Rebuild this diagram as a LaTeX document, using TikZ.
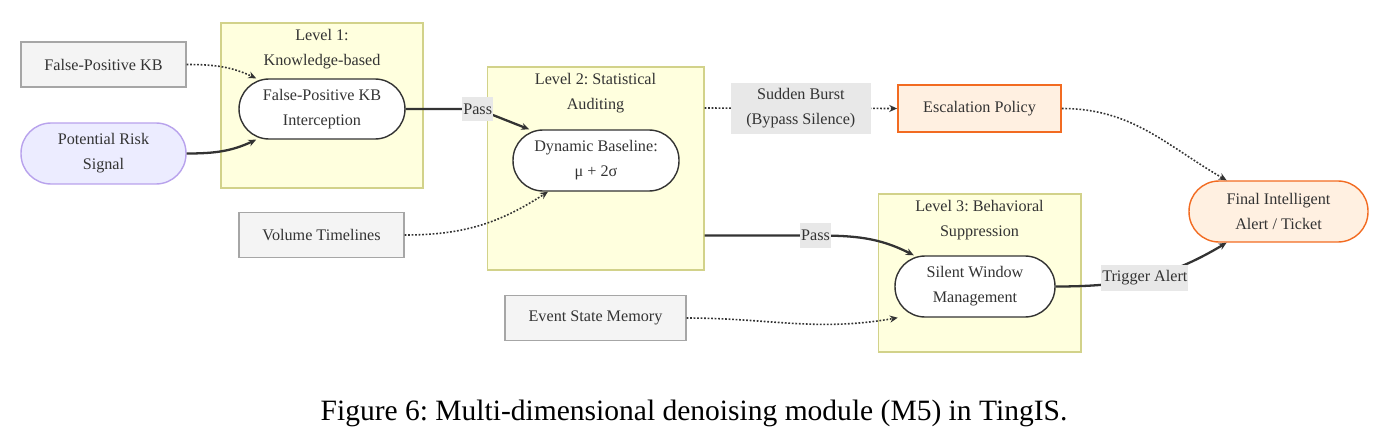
\documentclass[tikz,border=0pt]{standalone}
\usepackage{fontspec}
\setmainfont{Liberation Serif}
\usetikzlibrary{arrows.meta,positioning,calc}
\frenchspacing
\definecolor{ink}{HTML}{333333}
\definecolor{clfill}{HTML}{FFFFDE}
\definecolor{cldraw}{HTML}{D2D28A}
\definecolor{srcfill}{HTML}{F4F4F4}
\definecolor{srcdraw}{HTML}{A6A6A6}
\definecolor{riskfill}{HTML}{ECECFF}
\definecolor{riskdraw}{HTML}{B8A2EC}
\definecolor{alertfill}{HTML}{FFF0E1}
\definecolor{alertdraw}{HTML}{F26B21}
\definecolor{lblfill}{HTML}{E8E8E8}

\begin{document}
\begin{tikzpicture}[x=0.02cm, y=-0.02cm,
  every node/.style={font=\fontsize{9.2}{14.2}\selectfont, text=ink},
  source/.style={rectangle, draw=srcdraw, fill=srcfill, line width=0.6pt,
                 minimum width=3.3cm, minimum height=0.9cm},
  stadium/.style={rectangle, rounded corners=0.6cm, draw=ink, fill=white,
                  line width=0.8pt, minimum width=3.32cm,
                  minimum height=1.2cm, align=center},
  cluster/.style={rectangle, draw=cldraw, fill=clfill, line width=0.6pt},
  cltitle/.style={align=center, inner sep=0pt},
  edgelbl/.style={fill=lblfill, inner xsep=0.5pt, minimum height=0.5cm,
                  align=center},
  arr/.style={-{Stealth[length=4.5pt,width=4pt]}, draw=ink, line width=1.3pt},
  dotarr/.style={-{Stealth[length=4.5pt,width=4pt]}, draw=ink,
                 line width=0.9pt, dash pattern=on 1pt off 1pt},
]
\useasboundingbox (0,0) rectangle (1395,446);

% the three levels
\node[cluster, minimum width=4.04cm, minimum height=3.3cm] (L1) at (322,105.5) {};
\node[cltitle, below=0.13cm of L1.north] (L1T) {Level 1:\\Knowledge-based};
\node[cluster, minimum width=4.34cm, minimum height=4.06cm] (L2) at (595.5,168.5) {};
\node[cltitle, below=0.13cm of L2.north] (L2T) {Level 2: Statistical\\Auditing};
\node[cluster, minimum width=4.06cm, minimum height=3.16cm] (L3) at (979.5,273) {};
\node[cltitle, below=0.13cm of L3.north] (L3T) {Level 3: Behavioral\\Suppression};

\node[source] (FPKB) at (103.5,64.5) {False-Positive KB};
\node[stadium, draw=riskdraw, fill=riskfill, minimum width=3.3cm,
      minimum height=1.22cm] (Risk) at (103.5,153.5) {Potential Risk\\Signal};
\node[stadium] (FPInt) at (322,109) {False-Positive KB\\Interception};
\node[stadium, minimum height=1.22cm] (DynBase) at (596,160.5)
  {Dynamic Baseline:\\μ + 2σ};
\node[source] (Volume) at (321.5,235) {Volume Timelines};
\node[source, draw=alertdraw, fill=alertfill, line width=1pt,
      minimum width=3.26cm, minimum height=0.94cm] (Escal) at (979.5,108.5)
  {Escalation Policy};
\node[stadium, minimum width=3.2cm, minimum height=1.22cm] (Silent)
  at (975,286.5) {Silent Window\\Management};
\node[source, minimum width=3.62cm] (Event) at (595.5,318) {Event State Memory};
\node[stadium, draw=alertdraw, fill=alertfill, minimum width=3.58cm,
      minimum height=1.22cm] (Final) at (1278.5,211.5)
  {Final Intelligent\\Alert / Ticket};
\node[text=black] (Caption) at (694,413)
  {\fontsize{16.8}{20}\selectfont Figure 6: Multi-dimensional denoising module (M5) in TingIS.};

% connectors
\draw[dotarr] (FPKB.east) to[out=0, in=155] (FPInt.155);
\draw[arr] (Risk.east) to[out=0, in=205] (FPInt.205);
\draw[arr] (FPInt.east) -- ++(72,0) node[edgelbl] (Pass1) {Pass} -- (DynBase.155);
\draw[dotarr] (Volume.east) to[out=0, in=213] (DynBase.213);
\draw[dotarr] ([yshift=1.21cm]L2.east) -- node[edgelbl, minimum width=2.8cm,
      minimum height=0.98cm] (Burst) {Sudden Burst\\(Bypass Silence)} (Escal.west);
\draw[dotarr] (Escal.east) to[out=0, in=150] (Final.149);
\draw[arr] ([yshift=0.7cm]L2.south east) -- ++(111,0) node[edgelbl] (Pass2) {Pass}
  to[out=0, in=153] (Silent.153);
\draw[dotarr] (Event.east) to[out=0, in=190] (Silent.202);
\draw[arr] (Silent.east) to[out=0, in=211] node[edgelbl] (Trig) {Trigger Alert} (Final.211);
\end{tikzpicture}
\end{document}
